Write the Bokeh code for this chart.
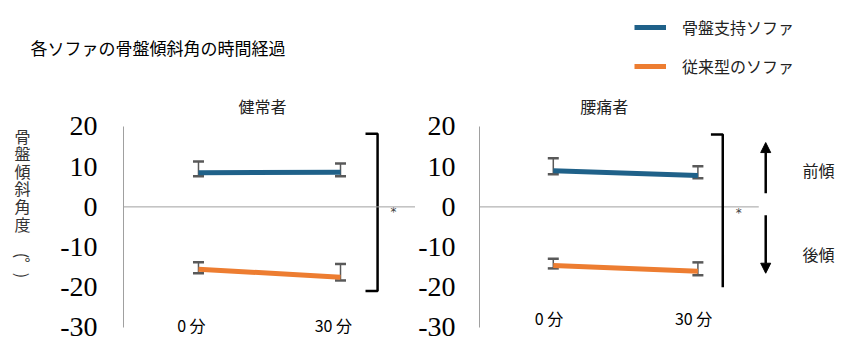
import math
from bokeh.plotting import figure
from bokeh.models import (Range1d, FixedTicker, ColumnDataSource, Whisker, TeeHead,
                          Arrow, NormalHead, Legend, LegendItem, Span)
from bokeh.layouts import row, column
from bokeh.core.properties import value
from bokeh.embed import file_html
from bokeh.resources import INLINE

# ---------------- data ----------------
times = ["0 分", "30 分"]
x_pos = [0, 1]
y_ticks = [20, 10, 0, -10, -20, -30]
groups = ["健常者", "腰痛者"]
series = ["骨盤支持ソファ", "従来型のソファ"]
chart_title = "各ソファの骨盤傾斜角の時間経過"
y_label_chars = ["骨", "盤", "傾", "斜", "角", "度"]
direction_labels = ["前傾", "後傾"]

healthy_support = [8.5, 8.6]
healthy_support_upper = [11.3, 10.8]
healthy_support_lower = [7.6, 7.6]
healthy_conv = [-15.5, -17.5]
healthy_conv_upper = [-13.8, -14.2]
healthy_conv_lower = [-16.5, -18.3]

pain_support = [9.0, 7.8]
pain_support_upper = [12.1, 10.1]
pain_support_lower = [8.1, 7.1]
pain_conv = [-14.6, -16.0]
pain_conv_upper = [-12.9, -13.8]
pain_conv_lower = [-15.3, -17.0]

BLUE = "#1F6189"
ORANGE = "#ED7D31"
ERR = "#595959"
AXIS = "#a0a0a0"
CJK = "Noto Sans CJK JP"
Y_BOTTOM = -36.22


def blank_fig(width, height, xr, yr):
    p = figure(width=width, height=height, output_backend="svg", toolbar_location=None,
               x_range=Range1d(*xr), y_range=Range1d(*yr),
               x_axis_location=None, y_axis_location=None,
               min_border_left=0, min_border_right=0, min_border_top=0, min_border_bottom=0)
    p.outline_line_color = None
    p.grid.visible = False
    return p


def make_panel(width, height, border_left, xr, y_top, standoff):
    p = figure(width=width, height=height, output_backend="svg", toolbar_location=None,
               x_range=Range1d(*xr), y_range=Range1d(Y_BOTTOM, y_top),
               x_axis_location=None, min_border_left=border_left,
               min_border_right=0, min_border_top=0, min_border_bottom=0)
    p.outline_line_color = None
    p.grid.visible = False
    ax = p.yaxis[0]
    ax.ticker = FixedTicker(ticks=y_ticks)
    ax.major_label_overrides = {t: str(t) for t in y_ticks}
    ax.bounds = (min(y_ticks), max(y_ticks))
    ax.axis_line_color = AXIS
    ax.axis_line_width = 1
    ax.major_tick_line_color = None
    ax.minor_tick_line_color = None
    ax.major_tick_out = 0
    ax.major_tick_in = 0
    ax.minor_tick_out = 0
    ax.minor_tick_in = 0
    ax.major_label_text_font = "Liberation Serif"
    ax.major_label_text_font_size = "28px"
    ax.major_label_text_color = "black"
    ax.major_label_standoff = standoff
    return p


def add_series(p, means, upper, lower, color):
    src = ColumnDataSource(dict(x=x_pos, upper=upper, lower=lower))
    w = Whisker(base="x", upper="upper", lower="lower", source=src, dimension="height",
                line_color=ERR, line_width=1.5,
                upper_head=TeeHead(size=11, line_color=ERR, line_width=2.5),
                lower_head=TeeHead(size=11, line_color=ERR, line_width=2.5))
    p.add_layout(w)
    return p.line(x_pos, means, line_color=color, line_width=5)


def panel_title(p, text, x):
    p.text(x=[x], y=[25.2], text=[text], text_font=value(CJK), text_font_size="16px",
           text_align="center", text_baseline="middle", text_color="#222222")


def time_labels(p, y, dx):
    p.text(x=[v + dx for v in x_pos], y=[y] * len(x_pos), text=times, text_font=value(CJK),
           text_font_size="16px", text_align="center", text_baseline="middle",
           text_color="black")


# ---------------- title strip ----------------
pt = blank_fig(415, 90, (0, 415), (90, 0))
pt.text(x=[30], y=[47], text=[chart_title], text_font=value(CJK), text_font_size="17px",
        text_align="left", text_baseline="middle", text_color="black")

# ---------------- y label strip ----------------
p0 = blank_fig(45, 262, (0, 45), (352, 90))
p0.text(x=[22] * len(y_label_chars), y=[135 + i * 17.6 for i in range(len(y_label_chars))],
        text=y_label_chars, text_font=value(CJK), text_font_size="16px",
        text_align="center", text_baseline="middle", text_color="#333333")
p0.text(x=[22, 22], y=[255, 275], text=["(", ")"], angle=-math.pi / 2,
        text_font=value(CJK), text_font_size="16px", text_align="center",
        text_baseline="middle", text_color="#333333")
p0.text(x=[27], y=[262], text=["°"], text_font=value(CJK), text_font_size="16px",
        text_align="center", text_baseline="middle", text_color="#333333")

# ---------------- left panel: 健常者 ----------------
p1 = make_panel(370, 262, 78, (-0.528, 1.528), 28.95, 26)
p1.add_layout(Span(location=0, dimension="width", line_color=AXIS, line_width=1))
add_series(p1, healthy_support, healthy_support_upper, healthy_support_lower, BLUE)
add_series(p1, healthy_conv, healthy_conv_upper, healthy_conv_lower, ORANGE)
panel_title(p1, groups[0], 0.45)
time_labels(p1, -29.5, -0.05)

p1.line([1.176, 1.261, 1.261, 1.176], [18.2, 18.2, -20.9, -20.9], line_color="black",
        line_width=2.5)
p1.text(x=[1.373], y=[-1.2], text=["*"], text_font=value("DejaVu Sans"), text_font_size="12px",
        text_align="center", text_baseline="middle", text_color="#404040")

# ---------------- right panel: 腰痛者 ----------------
p2 = make_panel(427, 352, 63, (-0.5103, 2.0), 51.34, 24)
p2.segment(x0=[-0.5103], y0=[0], x1=[1.421], y1=[0], line_color=AXIS, line_width=1)
r_support = add_series(p2, pain_support, pain_support_upper, pain_support_lower, BLUE)
r_conv = add_series(p2, pain_conv, pain_conv_upper, pain_conv_lower, ORANGE)
panel_title(p2, groups[1], 0.352)
time_labels(p2, -27.7, -0.03)

p2.line([1.090, 1.172, 1.172], [18.0, 18.0, -20.0], line_color="black", line_width=2.5)
p2.text(x=[1.283], y=[-1.6], text=["*"], text_font=value("DejaVu Sans"), text_font_size="12px",
        text_align="center", text_baseline="middle", text_color="#404040")

p2.add_layout(Arrow(x_start=1.469, y_start=3.4, x_end=1.469, y_end=16.0, line_width=2.5,
                    line_color="black",
                    end=NormalHead(size=10, fill_color="black", line_color="black")))
p2.add_layout(Arrow(x_start=1.469, y_start=-2.1, x_end=1.469, y_end=-16.5, line_width=2.5,
                    line_color="black",
                    end=NormalHead(size=10, fill_color="black", line_color="black")))
p2.text(x=[1.834, 1.834], y=[9.1, -11.6], text=direction_labels, text_font=value(CJK),
        text_font_size="16px", text_align="center", text_baseline="middle",
        text_color="#222222")

legend = Legend(items=[LegendItem(label=series[0], renderers=[r_support]),
                       LegendItem(label=series[1], renderers=[r_conv])],
                location=(155, 274), orientation="vertical",
                glyph_width=32, glyph_height=20, label_standoff=16, spacing=15,
                padding=0, margin=0, border_line_alpha=0, background_fill_alpha=0,
                label_text_font=CJK, label_text_font_size="16px",
                label_text_color="#222222")
p2.add_layout(legend)

layout = row(column(pt, row(p0, p1)), p2)
open("out.html", "w").write(file_html(layout, INLINE))
